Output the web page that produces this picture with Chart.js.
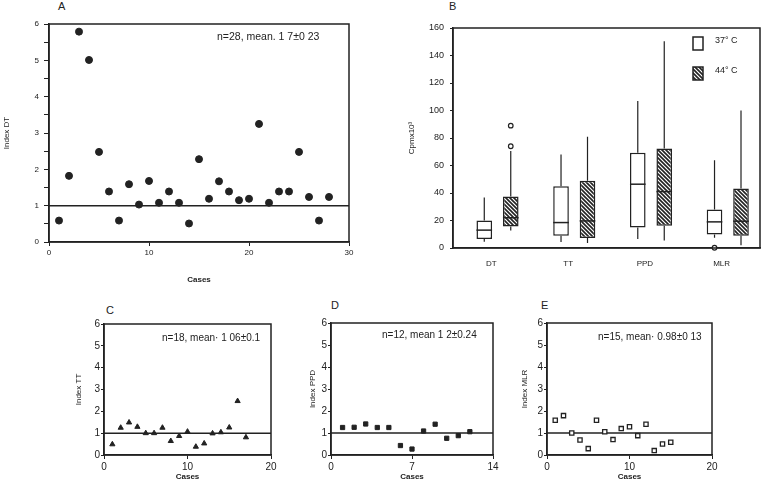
<!DOCTYPE html>
<html>
<head>
<meta charset="utf-8">
<script src="https://cdn.jsdelivr.net/npm/chart.js@4.4.1/dist/chart.umd.min.js"></script>
<style>
    body { margin: 0; width: 767px; height: 481px; background: #fff; position: relative; overflow: hidden;
           font-family: "Liberation Sans", Arial, sans-serif; color: #222; }
    canvas { position: absolute; }
    .panel { position: absolute; font-size: 11px; line-height: 11px; }
</style>
</head>
<body>
<div class="panel" style="left:58px;top:1px">A</div>
<div class="panel" style="left:449px;top:1px">B</div>
<div class="panel" style="left:106px;top:305px">C</div>
<div class="panel" style="left:331px;top:300px">D</div>
<div class="panel" style="left:541px;top:300px">E</div>

<canvas id="chartA" width="365" height="292" style="left:0;top:0"></canvas>
<canvas id="chartB" width="387" height="272" style="left:380px;top:0"></canvas>
<canvas id="chartC" width="210" height="186" style="left:70px;top:295px"></canvas>
<canvas id="chartD" width="205" height="186" style="left:300px;top:295px"></canvas>
<canvas id="chartE" width="257" height="186" style="left:510px;top:295px"></canvas>

<script>
// --- Dados ---
const REF_LEVEL = 1;

// A: Index DT por caso
const casesA = [1, 2, 3, 4, 5, 6, 7, 8, 9, 10, 11, 12, 13, 14, 15, 16, 17, 18, 19, 20, 21, 22, 23, 24, 25, 26, 27, 28];
const indexDT = [0.59, 1.82, 5.79, 5.01, 2.48, 1.39, 0.59, 1.59, 1.03, 1.68, 1.08, 1.39, 1.08, 0.51,
                 2.28, 1.19, 1.67, 1.39, 1.15, 1.19, 3.25, 1.08, 1.39, 1.39, 2.48, 1.24, 0.59, 1.24];

// C: Index TT
const casesC = [1, 2, 3, 4, 5, 6, 7, 8, 9, 10, 11, 12, 13, 14, 15, 16, 17];
const indexTT = [0.49, 1.25, 1.49, 1.29, 1.0, 1.0, 1.25, 0.64, 0.87, 1.07, 0.38, 0.53, 0.99, 1.04, 1.26, 2.47, 0.81];

// D: Index PPD
const casesD = [1, 2, 3, 4, 5, 6, 7, 8, 9, 10, 11, 12];
const indexPPD = [1.25, 1.26, 1.41, 1.25, 1.25, 0.43, 0.27, 1.09, 1.40, 0.76, 0.88, 1.06];

// E: Index MLR
const casesE = [1, 2, 3, 4, 5, 6, 7, 8, 9, 10, 11, 12, 13, 14, 15];
const indexMLR = [1.58, 1.79, 1.0, 0.68, 0.29, 1.58, 1.06, 0.70, 1.2, 1.28, 0.88, 1.40, 0.2, 0.5, 0.58];

// B: boxplots (Cpm x 10^3)
const categoriesB = ['DT', 'TT', 'PPD', 'MLR'];
const b37Min = [4.6, 4.3, 6.5, 7.5];
const b37Q1  = [6.5, 9, 15, 9.9];
const b37Med = [13, 18.5, 46.4, 19];
const b37Q3  = [20, 45, 69.3, 28];
const b37Max = [36.8, 68, 107, 63.8];
const b37Out = [[], [], [], [0.2]];
const b44Min = [12.7, 3.6, 5.5, 2];
const b44Q1  = [15.6, 7.2, 16.1, 8.9];
const b44Med = [22, 19.7, 41, 19.5];
const b44Q3  = [37.5, 49, 72.4, 43.3];
const b44Max = [70.5, 81, 150.4, 100];
const b44Out = [[74, 89], [], [], []];

const INK = '#222';
Chart.defaults.font.family = '"Liberation Sans", Arial, sans-serif';
Chart.defaults.color = INK;

// Moldura em volta da área do gráfico
const framePlugin = {
    id: 'frame',
    afterDraw(chart) {
        const a = chart.chartArea, ctx = chart.ctx;
        ctx.save();
        ctx.strokeStyle = INK;
        ctx.lineWidth = 1.5;
        ctx.strokeRect(a.left, a.top, a.width, a.height);
        ctx.restore();
    }
};

// Texto "n=..., mean ..." dentro do painel
const notePlugin = {
    id: 'note',
    afterDraw(chart, args, opts) {
        if (!opts.text) return;
        const ctx = chart.ctx;
        ctx.save();
        ctx.fillStyle = INK;
        ctx.font = opts.size + 'px "Liberation Sans", Arial, sans-serif';
        ctx.textBaseline = 'middle';
        ctx.fillText(opts.text, opts.x, opts.y);
        ctx.restore();
    }
};

function indexChart(id, o) {
    return new Chart(document.getElementById(id), {
        type: 'scatter',
        data: {
            datasets: [
                {
                    data: o.xs.map((x, i) => ({ x: x, y: o.ys[i] })),
                    pointStyle: o.style,
                    pointRadius: o.r,
                    backgroundColor: o.fill,
                    borderColor: INK,
                    borderWidth: o.bw
                },
                {
                    data: [{ x: 0, y: REF_LEVEL }, { x: o.xMax, y: REF_LEVEL }],
                    showLine: true,
                    pointRadius: 0,
                    borderColor: INK,
                    borderWidth: 1.5
                }
            ]
        },
        options: {
            responsive: false,
            animation: false,
            devicePixelRatio: 1,
            layout: { padding: { top: o.padTop, right: o.padRight, left: 0, bottom: 0 } },
            plugins: {
                legend: { display: false },
                tooltip: { enabled: false },
                note: { text: o.note, x: o.noteX, y: o.noteY, size: o.noteSize }
            },
            scales: {
                x: {
                    type: 'linear', min: 0, max: o.xMax,
                    ticks: { stepSize: o.xStep, font: { size: o.tickSize }, padding: 2, maxRotation: 0 },
                    grid: { drawOnChartArea: false, tickLength: 4, color: INK },
                    border: { color: INK, width: 1.5 },
                    title: { display: true, text: 'Cases', font: { size: 8, weight: 'bold', lineHeight: 1 }, padding: { top: 2, bottom: o.casesPad } },
                    afterFit: s => { s.height = o.xH; }
                },
                y: {
                    min: 0, max: 6,
                    ticks: {
                        stepSize: 0.5, font: { size: o.tickSize }, padding: o.yPad,
                        callback: v => Number.isInteger(v) ? v : ''
                    },
                    grid: { drawOnChartArea: false, tickLength: o.yTick, color: INK },
                    border: { color: INK, width: 1.5 },
                    title: { display: true, text: o.yTitle, font: { size: 8 }, padding: { top: o.yTitlePad, bottom: 0 } },
                    afterFit: s => { s.width = o.yW; }
                }
            }
        },
        plugins: [framePlugin, notePlugin]
    });
}

// --- Painel A ---
indexChart('chartA', {
    xs: casesA, ys: indexDT, xMax: 30, xStep: 10,
    style: 'circle', r: 3.5, fill: INK, bw: 1,
    padTop: 24, padRight: 16, yW: 49, xH: 50,
    tickSize: 8, yPad: 5, yTick: 5, casesPad: 8,
    yTitle: 'Index DT', yTitlePad: 2,
    note: 'n=28, mean. 1 7±0 23', noteX: 217, noteY: 37, noteSize: 10.5
});

// --- Painéis C, D, E ---
indexChart('chartC', {
    xs: casesC, ys: indexTT, xMax: 20, xStep: 10,
    style: 'triangle', r: 3, fill: INK, bw: 1,
    padTop: 29, padRight: 9, yW: 34, xH: 26,
    tickSize: 10, yPad: 1, yTick: 3, casesPad: 0,
    yTitle: 'Index TT', yTitlePad: 4,
    note: 'n=18, mean· 1 06±0.1', noteX: 92, noteY: 43, noteSize: 10
});

indexChart('chartD', {
    xs: casesD, ys: indexPPD, xMax: 14, xStep: 7,
    style: 'rect', r: 3, fill: INK, bw: 1,
    padTop: 28, padRight: 12, yW: 31, xH: 26,
    tickSize: 10, yPad: 1, yTick: 3, casesPad: 0,
    yTitle: 'Index PPD', yTitlePad: 8,
    note: 'n=12, mean 1 2±0.24', noteX: 82, noteY: 40, noteSize: 10
});

indexChart('chartE', {
    xs: casesE, ys: indexMLR, xMax: 20, xStep: 10,
    style: 'rect', r: 3, fill: '#fff', bw: 1.3,
    padTop: 28, padRight: 55, yW: 37, xH: 26,
    tickSize: 10, yPad: 1, yTick: 3, casesPad: 0,
    yTitle: 'Index MLR', yTitlePad: 10,
    note: 'n=15, mean· 0.98±0 13', noteX: 88, noteY: 42, noteSize: 10
});

// --- Painel B: boxplots ---
function makeHatch() {
    const c = document.createElement('canvas');
    c.width = c.height = 4;
    const g = c.getContext('2d');
    g.fillStyle = '#fff';
    g.fillRect(0, 0, 4, 4);
    g.strokeStyle = INK;
    g.lineWidth = 1.6;
    g.beginPath();
    g.moveTo(-1, -1); g.lineTo(5, 5);
    g.moveTo(-1, 3); g.lineTo(1, 5);
    g.moveTo(3, -1); g.lineTo(5, 1);
    g.stroke();
    return g.createPattern(c, 'repeat');
}
const hatch = makeHatch();

const boxPlugin = {
    id: 'boxStats',
    afterDatasetsDraw(chart) {
        const ctx = chart.ctx, y = chart.scales.y;
        ctx.save();
        ctx.strokeStyle = INK;
        chart.data.datasets.forEach((ds, di) => {
            const meta = chart.getDatasetMeta(di);
            meta.data.forEach((bar, j) => {
                const { x, width } = bar.getProps(['x', 'width'], true);
                const s = ds.stats;
                const range = ds.data[j].y;
                ctx.lineWidth = 1.2;
                ctx.beginPath();
                ctx.moveTo(x, y.getPixelForValue(s.max[j]));
                ctx.lineTo(x, y.getPixelForValue(range[1]));
                ctx.moveTo(x, y.getPixelForValue(range[0]));
                ctx.lineTo(x, y.getPixelForValue(s.min[j]));
                ctx.stroke();
                ctx.lineWidth = 1.5;
                ctx.beginPath();
                ctx.moveTo(x - width / 2, y.getPixelForValue(s.med[j]));
                ctx.lineTo(x + width / 2, y.getPixelForValue(s.med[j]));
                ctx.stroke();
                s.out[j].forEach(v => {
                    ctx.lineWidth = 1.2;
                    ctx.beginPath();
                    ctx.arc(x, y.getPixelForValue(v), 2.3, 0, Math.PI * 2);
                    ctx.fillStyle = '#fff';
                    ctx.fill();
                    ctx.stroke();
                });
            });
        });
        ctx.restore();
    },
    afterDraw(chart) {
        // legenda desenhada à mão, como na figura
        const ctx = chart.ctx;
        const items = chart.data.datasets;
        ctx.save();
        ctx.font = '9px "Liberation Sans", Arial, sans-serif';
        ctx.textBaseline = 'middle';
        items.forEach((ds, i) => {
            const top = 37 + i * 30;
            ctx.fillStyle = ds.backgroundColor;
            ctx.fillRect(313, top, 10, 13);
            ctx.strokeStyle = INK;
            ctx.lineWidth = 1.5;
            ctx.strokeRect(313, top, 10, 13);
            ctx.fillStyle = INK;
            ctx.fillText(ds.label, 335, top + 4);
        });
        ctx.restore();
    }
};

// caixas num eixo linear escondido, ligeiramente deslocado como na figura
const boxData = (q1, q3) => q1.map((q, i) => ({ x: i, y: [q, q3[i]] }));

new Chart(document.getElementById('chartB'), {
    type: 'bar',
    data: {
        labels: categoriesB,
        datasets: [
            {
                label: '37° C',
                data: boxData(b37Q1, b37Q3),
                xAxisID: 'xb',
                backgroundColor: '#fff',
                borderColor: INK, borderWidth: 1.5, borderSkipped: false,
                categoryPercentage: 0.69, barPercentage: 0.59,
                stats: { min: b37Min, med: b37Med, max: b37Max, out: b37Out }
            },
            {
                label: '44° C',
                data: boxData(b44Q1, b44Q3),
                xAxisID: 'xb',
                backgroundColor: hatch,
                borderColor: INK, borderWidth: 1.5, borderSkipped: false,
                categoryPercentage: 0.69, barPercentage: 0.59,
                stats: { min: b44Min, med: b44Med, max: b44Max, out: b44Out }
            }
        ]
    },
    options: {
        responsive: false,
        animation: false,
        devicePixelRatio: 1,
        layout: { padding: { top: 28, right: 7, left: 0, bottom: 0 } },
        plugins: { legend: { display: false }, tooltip: { enabled: false } },
        scales: {
            x: {
                type: 'category',
                grid: { display: false },
                border: { color: INK, width: 1.5 },
                ticks: { font: { size: 8 }, padding: 3 },
                afterFit: s => { s.height = 24; }
            },
            xb: {
                type: 'linear',
                display: false,
                min: -0.58, max: 3.42,
                offset: false
            },
            y: {
                min: 0, max: 160,
                ticks: { stepSize: 20, font: { size: 9 }, padding: 6 },
                grid: { drawOnChartArea: false, tickLength: 3, color: INK },
                border: { color: INK, width: 1.5 },
                title: { display: true, text: 'Cpmx10³', font: { size: 8 }, padding: { top: 27, bottom: 0 } },
                afterFit: s => { s.width = 73; }
            }
        }
    },
    plugins: [framePlugin, boxPlugin]
});
</script>
</body>
</html>
